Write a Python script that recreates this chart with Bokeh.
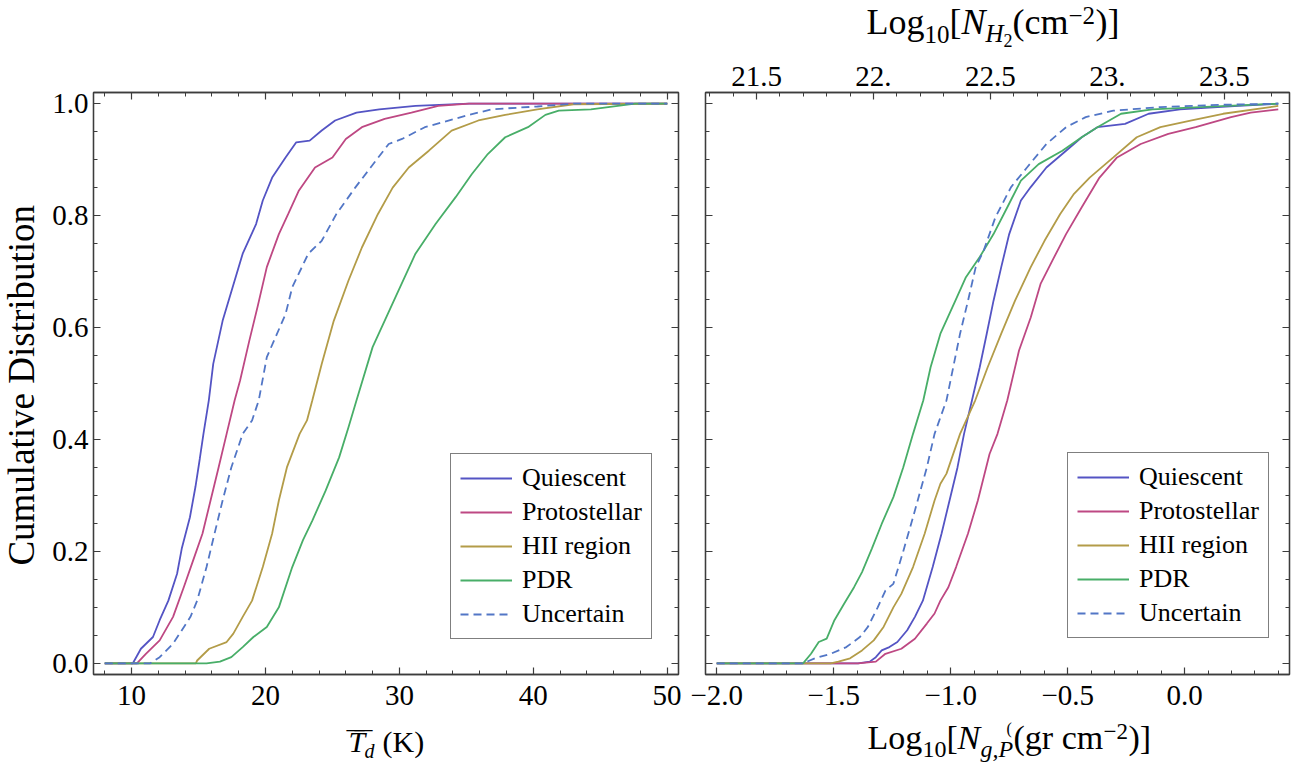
import numpy as np
from bokeh.plotting import figure
from bokeh.models import (Range1d, LinearAxis, FixedTicker, Legend, LegendItem, Label,
                          CustomJSTickFormatter)
from bokeh.layouts import row, column
from bokeh.embed import file_html
from bokeh.resources import INLINE

# ---------------- data ----------------
series_names = ["Quiescent", "Protostellar", "HII region", "PDR", "Uncertain"]

# Left panel: mean dust temperature (K) vs cumulative fraction
td_quiescent = [8, 10.1, 10.7, 11.6, 12.1, 12.75, 13.4, 13.75, 14.36, 14.77, 15.1, 15.37, 15.77, 16.1, 16.8, 17.7,
                18.3, 19.3, 19.8, 20.5, 21.5, 22.3, 23.3, 24.2, 25.2, 26.8, 28.5, 31.2, 35.2, 50]
cf_quiescent = [0, 0, 0.026, 0.047, 0.077, 0.112, 0.16, 0.205, 0.261, 0.315, 0.366, 0.41, 0.47, 0.535, 0.612, 0.684,
                0.732, 0.785, 0.827, 0.868, 0.904, 0.931, 0.934, 0.952, 0.97, 0.984, 0.99, 0.996, 1.0, 1.0]

td_protostellar = [8, 10.4, 11.07, 12.1, 13.1, 13.9, 14.6, 15.3, 15.9, 16.5, 17.1, 17.7, 18.1, 18.8, 19.4, 20.1,
                   21.0, 21.7, 22.5, 23.7, 25.0, 26.0, 27.2, 28.9, 30.9, 32.9, 35.2, 50]
cf_protostellar = [0, 0, 0.017, 0.041, 0.083, 0.136, 0.184, 0.232, 0.291, 0.35, 0.41, 0.47, 0.505, 0.577, 0.636,
                   0.708, 0.767, 0.803, 0.845, 0.886, 0.904, 0.937, 0.958, 0.973, 0.984, 0.996, 1.0, 1.0]

td_hii = [8, 14.8, 14.9, 15.8, 17.1, 17.6, 18.3, 19.0, 19.8, 20.5, 21.0, 21.6, 22.55, 23.1, 23.5, 24.2, 25.1, 26.2,
          27.2, 28.4, 29.5, 30.7, 32.2, 33.9, 35.9, 37.9, 40.3, 43, 50]
cf_hii = [0, 0, 0.005, 0.026, 0.038, 0.053, 0.083, 0.112, 0.172, 0.232, 0.291, 0.35, 0.41, 0.434, 0.47, 0.535, 0.612,
          0.684, 0.743, 0.803, 0.85, 0.886, 0.916, 0.952, 0.97, 0.98, 0.99, 0.999, 1.0]

td_pdr = [8, 15.6, 16.6, 17.45, 18.3, 19.1, 20.1, 21.0, 22.0, 22.8, 23.5, 24.5, 25.5, 26.2, 26.8, 28.0, 29.7, 31.2,
          32.7, 34.2, 35.4, 36.6, 37.9, 39.6, 40.9, 41.9, 44.3, 47.6, 50]
cf_pdr = [0, 0, 0.003, 0.011, 0.029, 0.047, 0.065, 0.1, 0.172, 0.22, 0.255, 0.309, 0.368, 0.422, 0.47, 0.565, 0.654,
          0.732, 0.785, 0.833, 0.874, 0.91, 0.94, 0.958, 0.98, 0.9875, 0.99, 1.0, 1.0]

td_uncertain = [8, 11.4, 12.1, 13.1, 14.4, 14.9, 15.6, 16.2, 16.8, 17.45, 18.3, 19.0, 19.5, 20.1, 21.5, 22.0, 23.2,
                24.2, 25.3, 26.7, 27.85, 29.2, 30.2, 31.9, 35.2, 36.9, 40.3, 43, 50]
cf_uncertain = [0, 0, 0.011, 0.035, 0.083, 0.112, 0.172, 0.232, 0.291, 0.35, 0.41, 0.434, 0.47, 0.547, 0.624, 0.672,
                0.732, 0.755, 0.803, 0.85, 0.886, 0.928, 0.937, 0.958, 0.98, 0.99, 0.995, 1.0, 1.0]

# Right panel: log10 gas column density (g cm^-2) vs cumulative fraction
ng_quiescent = [-2.0, -1.396, -1.346, -1.32, -1.295, -1.262, -1.228, -1.186, -1.153, -1.119, -1.077, -1.039, -1.005,
                -0.971, -0.943, -0.909, -0.876, -0.846, -0.817, -0.784, -0.75, -0.70, -0.658, -0.591, -0.507, -0.44,
                -0.373, -0.255, -0.154, -0.02, 0.23, 0.4]
cn_quiescent = [0, 0, 0.003, 0.011, 0.023, 0.029, 0.038, 0.059, 0.083, 0.112, 0.172, 0.232, 0.291, 0.35, 0.41, 0.47,
                0.529, 0.589, 0.648, 0.708, 0.767, 0.827, 0.851, 0.886, 0.916, 0.94, 0.958, 0.964, 0.982, 0.99, 0.996,
                1.0]

ng_protostellar = [-2.0, -1.396, -1.32, -1.279, -1.211, -1.153, -1.102, -1.069, -1.044, -1.01, -0.977, -0.926, -0.884,
                   -0.834, -0.80, -0.758, -0.708, -0.658, -0.616, -0.565, -0.507, -0.44, -0.364, -0.289, -0.188, -0.07,
                   0.047, 0.198, 0.282, 0.4]
cn_protostellar = [0, 0, 0.003, 0.017, 0.026, 0.044, 0.071, 0.089, 0.112, 0.136, 0.172, 0.232, 0.291, 0.374, 0.41,
                   0.47, 0.559, 0.618, 0.678, 0.72, 0.767, 0.815, 0.868, 0.904, 0.928, 0.946, 0.958, 0.976, 0.984,
                   0.99]

ng_hii = [-2.0, -1.513, -1.48, -1.43, -1.379, -1.329, -1.287, -1.245, -1.211, -1.161, -1.111, -1.069, -1.044, -1.018,
          -0.96, -0.895, -0.842, -0.784, -0.725, -0.658, -0.599, -0.532, -0.473, -0.406, -0.305, -0.205, -0.104, 0.03,
          0.164, 0.4]
cn_hii = [0, 0, 0.003, 0.009, 0.023, 0.041, 0.065, 0.1, 0.124, 0.172, 0.232, 0.291, 0.321, 0.339, 0.41, 0.47, 0.529,
          0.589, 0.648, 0.708, 0.755, 0.803, 0.839, 0.868, 0.904, 0.94, 0.958, 0.97, 0.982, 0.996]

ng_pdr = [-2.0, -1.631, -1.597, -1.564, -1.53, -1.497, -1.455, -1.413, -1.379, -1.337, -1.295, -1.245, -1.203, -1.161,
          -1.117, -1.086, -1.044, -0.98, -0.935, -0.876, -0.817, -0.758, -0.70, -0.624, -0.523, -0.44, -0.373, -0.272,
          -0.138, 0.064, 0.4]
cn_pdr = [0, 0, 0.017, 0.038, 0.044, 0.077, 0.107, 0.136, 0.163, 0.205, 0.249, 0.297, 0.35, 0.41, 0.47, 0.529, 0.589,
          0.648, 0.69, 0.726, 0.767, 0.815, 0.8625, 0.892, 0.916, 0.94, 0.958, 0.982, 0.99, 0.994, 1.0]

ng_uncertain = [-2.0, -1.631, -1.58, -1.513, -1.446, -1.388, -1.354, -1.312, -1.279, -1.245, -1.203, -1.161, -1.102,
                -1.069, -1.018, -0.96, -0.926, -0.893, -0.859, -0.809, -0.742, -0.674, -0.591, -0.507, -0.423, -0.305,
                -0.104, 0.148, 0.4]
cn_uncertain = [0, 0, 0.009, 0.017, 0.029, 0.047, 0.065, 0.1, 0.13, 0.142, 0.2, 0.261, 0.35, 0.41, 0.47, 0.589, 0.648,
                0.708, 0.7375, 0.797, 0.851, 0.886, 0.928, 0.958, 0.976, 0.9875, 0.994, 0.998, 1.0]

# tick values / labels
y_ticks = [0.0, 0.2, 0.4, 0.6, 0.8, 1.0]
y_tick_labels = ["0.0", "0.2", "0.4", "0.6", "0.8", "1.0"]
td_ticks = [10, 20, 30, 40, 50]
td_tick_labels = ["10", "20", "30", "40", "50"]
ng_ticks = [-2.0, -1.5, -1.0, -0.5, 0.0]
ng_tick_labels = ["\u22122.0", "\u22121.5", "\u22121.0", "\u22120.5", "0.0"]
nh2_ticks = [21.5, 22.0, 22.5, 23.0, 23.5]
nh2_tick_labels = ["21.5", "22.", "22.5", "23.", "23.5"]
nh2_offset = 23.33  # log10 N_H2 = log10 N_g + offset

# ---------------- styling ----------------
FONT = "Liberation Serif"
FRAME = "#3c3c3c"
COLORS = ["#5454C4", "#BE4883", "#B39C48", "#48AE68", "#5276C6"]
DASHES = ["solid", "solid", "solid", "solid", "8 5"]
LW = 1.8
TICK_FS = "29px"
MID_K = 0.34        # text centre sits this many em above the baseline

y_minor = list(np.round(np.arange(0, 1.0001, 0.05), 3))
td_minor = list(range(8, 51, 2))
ng_minor = list(np.round(np.arange(-2.0, 0.45, 0.1), 3))
nh2_minor = list(np.round(np.arange(21.3, 23.8, 0.1), 3))

# page geometry (pixels, origin top-left)
TOTAL_W = 1300
TOP_H = 50          # title strip
FT, FB = 92, 674    # frame top / bottom
PANEL_BOTTOM = 718  # page y where the panels strip ends
MID_H = PANEL_BOTTOM - TOP_H
BOT_H = 764 - PANEL_BOTTOM
YLAB_W = 48         # y-title strip
L1, R1 = 93, 678    # left frame
L2, R2 = 705, 1289  # right frame
XR1 = (7.16, 50.84)
XR2 = (-2.048, 0.448)
YR = (-0.02, 1.02)
SPLIT = 681         # page x where the right panel canvas starts


def style_axis(ax, ticks, minor, labels=None, standoff=6):
    ax.ticker = FixedTicker(ticks=ticks, minor_ticks=minor)
    ax.axis_line_color = FRAME
    ax.axis_line_width = 1.3
    ax.major_tick_line_color = FRAME
    ax.minor_tick_line_color = FRAME
    ax.major_tick_line_width = 1.2
    ax.minor_tick_line_width = 1.0
    ax.major_tick_in = 7
    ax.major_tick_out = 0
    ax.minor_tick_in = 4
    ax.minor_tick_out = 0
    ax.axis_label = None
    if labels is None:
        ax.formatter = CustomJSTickFormatter(code="return '';")
        ax.major_label_text_color = None
        ax.major_label_standoff = 0
    else:
        ax.major_label_overrides = {t: l for t, l in zip(ticks, labels)}
        ax.major_label_text_font = FONT
        ax.major_label_text_font_size = TICK_FS
        ax.major_label_text_color = "black"
        ax.major_label_standoff = standoff


def make_panel(width, left_border, right_border, xr):
    p = figure(width=width, height=MID_H, x_range=Range1d(*xr), y_range=Range1d(*YR),
               title=None, output_backend="svg", toolbar_location=None,
               min_border_left=left_border, min_border_right=right_border,
               min_border_top=FT - TOP_H, min_border_bottom=PANEL_BOTTOM - FB)
    p.xgrid.visible = False
    p.ygrid.visible = False
    p.outline_line_color = FRAME
    p.outline_line_width = 1.3
    p.background_fill_color = "white"
    p.border_fill_color = "white"
    return p


def make_text_fig(width, height):
    f = figure(width=width, height=height, x_range=Range1d(0, width), y_range=Range1d(0, height),
               title=None, output_backend="svg", toolbar_location=None,
               x_axis_location=None, y_axis_location=None,
               min_border=0, min_border_left=0, min_border_right=0, min_border_top=0, min_border_bottom=0)
    f.xgrid.visible = False
    f.ygrid.visible = False
    f.outline_line_color = None
    f.background_fill_color = "white"
    f.border_fill_color = "white"
    return f


def put(f, x0, y0, height, px, base_y, text, size, style="normal"):
    # px: page x of the text's left edge; base_y: page y of the text baseline
    cy = base_y - MID_K * size
    f.add_layout(Label(x=px - x0, y=height - (cy - y0), text=text, text_font=FONT,
                       text_font_size=f"{size}px", text_font_style=style, text_color="black",
                       text_align="left", text_baseline="middle"))


def add_legend(p, renderers, loc):
    items = [LegendItem(label=n, renderers=[r]) for n, r in zip(series_names, renderers)]
    lg = Legend(items=items, location=loc, label_text_font=FONT, label_text_font_size="26px",
                label_text_color="black", glyph_width=52, glyph_height=24, label_standoff=10,
                spacing=4, padding=9, margin=0, border_line_color="black", border_line_width=1.3,
                background_fill_color="white", background_fill_alpha=1.0, label_height=24)
    p.add_layout(lg)


# ---------------- left panel ----------------
w1 = SPLIT - YLAB_W
p1 = make_panel(w1, L1 - YLAB_W, w1 - (L1 - YLAB_W) - (R1 - L1), XR1)
style_axis(p1.xaxis[0], td_ticks, td_minor, td_tick_labels, standoff=11)
style_axis(p1.yaxis[0], y_ticks, y_minor, y_tick_labels, standoff=5)
top1 = LinearAxis()
style_axis(top1, td_ticks, td_minor)
p1.add_layout(top1, "above")
right1 = LinearAxis()
style_axis(right1, y_ticks, y_minor)
p1.add_layout(right1, "right")

left_x = [td_quiescent, td_protostellar, td_hii, td_pdr, td_uncertain]
left_y = [cf_quiescent, cf_protostellar, cf_hii, cf_pdr, cf_uncertain]
rs1 = []
for xs, ys, c, d in zip(left_x, left_y, COLORS, DASHES):
    rs1.append(p1.line(xs, ys, line_color=c, line_width=LW, line_dash=d))
add_legend(p1, rs1, (450 - L1, FB - 639))

# ---------------- right panel ----------------
w2 = TOTAL_W - SPLIT
p2 = make_panel(w2, L2 - SPLIT, w2 - (L2 - SPLIT) - (R2 - L2), XR2)
p2.extra_x_ranges = {"nh2": Range1d(XR2[0] + nh2_offset, XR2[1] + nh2_offset)}
style_axis(p2.xaxis[0], ng_ticks, ng_minor, ng_tick_labels, standoff=11)
style_axis(p2.yaxis[0], y_ticks, y_minor)
top2 = LinearAxis(x_range_name="nh2")
style_axis(top2, nh2_ticks, nh2_minor, nh2_tick_labels, standoff=7)
p2.add_layout(top2, "above")
right2 = LinearAxis()
style_axis(right2, y_ticks, y_minor)
p2.add_layout(right2, "right")

right_x = [ng_quiescent, ng_protostellar, ng_hii, ng_pdr, ng_uncertain]
right_y = [cn_quiescent, cn_protostellar, cn_hii, cn_pdr, cn_uncertain]
rs2 = []
for xs, ys, c, d in zip(right_x, right_y, COLORS, DASHES):
    rs2.append(p2.line(xs, ys, line_color=c, line_width=LW, line_dash=d))
add_legend(p2, rs2, (1067 - L2, FB - 638))

# ---------------- title strips ----------------
# y-axis title
fy = make_text_fig(YLAB_W, MID_H)
fy.add_layout(Label(x=21, y=MID_H - (386 - TOP_H), text="Cumulative Distribution", text_font=FONT,
                    text_font_size="37px", text_color="black", angle=np.pi / 2,
                    text_align="center", text_baseline="middle"))

# top strip: Log10[N_H2(cm^-2)]
ft = make_text_fig(TOTAL_W, TOP_H)
put(ft, 0, 0, TOP_H, 866, 34, "Log", 36)
put(ft, 0, 0, TOP_H, 924, 42, "10", 25)
put(ft, 0, 0, TOP_H, 949, 34, "[", 36)
put(ft, 0, 0, TOP_H, 961, 34, "N", 36, style="italic")
put(ft, 0, 0, TOP_H, 985, 41, "H", 25, style="italic")
put(ft, 0, 0, TOP_H, 1003, 46, "2", 18)
put(ft, 0, 0, TOP_H, 1012, 34, "(cm", 36)
put(ft, 0, 0, TOP_H, 1068, 23, "\u22122", 25)
put(ft, 0, 0, TOP_H, 1095, 34, ")]", 36)

# bottom strip
BY = PANEL_BOTTOM
fb = make_text_fig(TOTAL_W, BOT_H)
# left: T-bar_d (K)  (the bar is two overlapping em dashes)
put(fb, 0, BY, BOT_H, 348, 751, "T", 30, style="italic")
put(fb, 0, BY, BOT_H, 346, 734.5, "\u2014", 18, style="bold")
put(fb, 0, BY, BOT_H, 354, 734.5, "\u2014", 18, style="bold")
put(fb, 0, BY, BOT_H, 364, 757, "d", 20, style="italic")
put(fb, 0, BY, BOT_H, 382, 751, "(K)", 30)
# right: Log10[N_g,P(gr cm^-2)]
put(fb, 0, BY, BOT_H, 867, 749, "Log", 34)
put(fb, 0, BY, BOT_H, 922, 757, "10", 24)
put(fb, 0, BY, BOT_H, 946, 749, "[", 34)
put(fb, 0, BY, BOT_H, 957, 749, "N", 34, style="italic")
put(fb, 0, BY, BOT_H, 980, 757, "g,P", 24, style="italic")
put(fb, 0, BY, BOT_H, 1013, 749, "(gr cm", 34)
put(fb, 0, BY, BOT_H, 1103, 739, "\u22122", 23)
put(fb, 0, BY, BOT_H, 1128, 749, ")]", 34)
put(fb, 0, BY, BOT_H, 1006, 733, "(", 16)

layout = column(ft, row(fy, p1, p2), fb)
open("out.html", "w").write(file_html(layout, INLINE))
